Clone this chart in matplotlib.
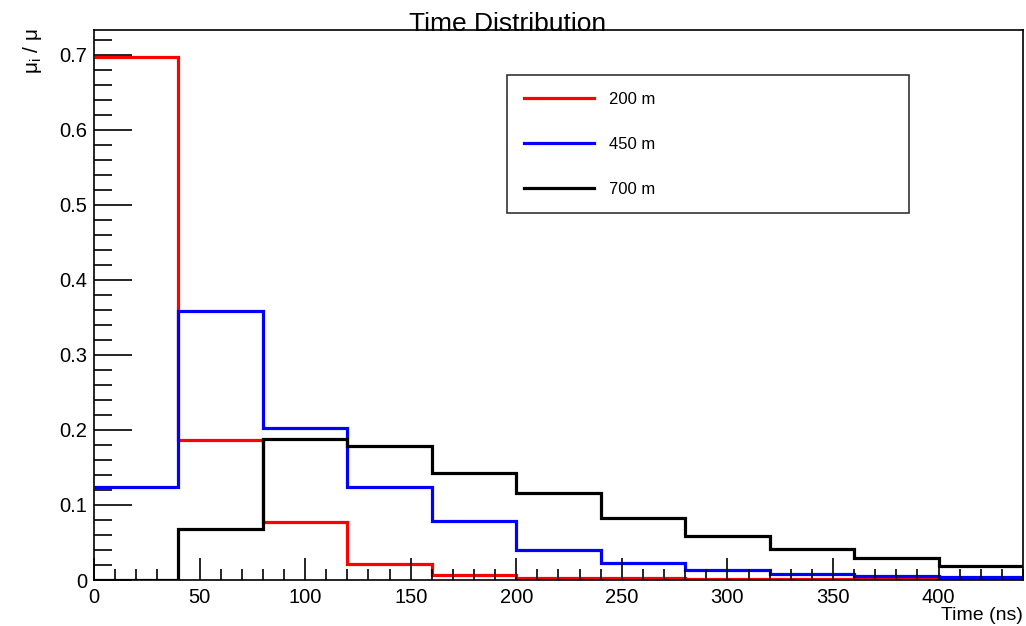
import numpy as np
import matplotlib
matplotlib.use("Agg")
from matplotlib import pyplot as plt
from matplotlib.ticker import MultipleLocator

plt.rcParams["font.family"] = ["Liberation Sans", "DejaVu Sans"]
plt.rcParams["mathtext.fontset"] = "custom"
plt.rcParams["mathtext.rm"] = "Liberation Sans"
plt.rcParams["mathtext.it"] = "Liberation Sans"

# bin edges in ns (40 ns bins)
edges = [0, 40, 80, 120, 160, 200, 240, 280, 320, 360, 400, 440]

# fraction of signal per time bin
h_200m = [0.697, 0.187, 0.077, 0.021, 0.007, 0.003, 0.002, 0.0015, 0.001, 0.001, 0.0008]
h_450m = [0.124, 0.358, 0.203, 0.124, 0.079, 0.040, 0.023, 0.013, 0.0085, 0.0055, 0.0035]
h_700m = [0.0, 0.068, 0.188, 0.179, 0.142, 0.116, 0.083, 0.058, 0.041, 0.029, 0.019]

labels = ["200 m", "450 m", "700 m"]
colors = ["#ff0000", "#0000ff", "#000000"]

fig = plt.figure(figsize=(10.26, 6.26), dpi=100)
ax = fig.add_axes([94 / 1026, 46 / 626, 929 / 1026, 550 / 626])

for vals, lab, col in zip([h_200m, h_450m, h_700m], labels, colors):
    ax.stairs(vals, edges, color=col, lw=2.3, label=lab, baseline=None)

ax.set_xlim(0, 440)
ax.set_ylim(0, 0.733)

ax.xaxis.set_major_locator(MultipleLocator(50))
ax.xaxis.set_minor_locator(MultipleLocator(10))
ax.yaxis.set_major_locator(MultipleLocator(0.1))
ax.yaxis.set_minor_locator(MultipleLocator(0.02))
ax.yaxis.set_major_formatter(matplotlib.ticker.FuncFormatter(lambda v, p: "0" if v == 0 else "%g" % v))

ax.tick_params(axis="both", which="both", direction="in", top=False, right=False, labelsize=14.5, width=1.2)
ax.tick_params(axis="x", which="major", length=16, pad=6)
ax.tick_params(axis="x", which="minor", length=8)
ax.tick_params(axis="y", which="major", length=27, pad=5)
ax.tick_params(axis="y", which="minor", length=13)
for s in ax.spines.values():
    s.set_linewidth(1.2)

fig.text(508 / 1026, 1 - 31 / 626, "Time Distribution", ha="center", va="baseline", fontsize=19)
fig.text(1023 / 1026, 1 - 620 / 626, "Time (ns)", ha="right", va="baseline", fontsize=14)
fig.text(33 / 1026, 1 - 28 / 626, r"$\mu_{i}$ / $\mu$", rotation=90, ha="center", va="top", fontsize=15)

leg = ax.legend(loc="upper left",
                bbox_to_anchor=((507 - 94) / 929, (580 - 213) / 550, (909 - 507) / 929, (213 - 75) / 550),
                mode="expand", frameon=True, fancybox=False, edgecolor="black", fontsize=12,
                handlelength=4.2, handletextpad=0.9, labelspacing=1.8,
                borderpad=1.0, borderaxespad=0)
leg.get_frame().set_linewidth(1.2)

fig.savefig("out.png", dpi=100)
